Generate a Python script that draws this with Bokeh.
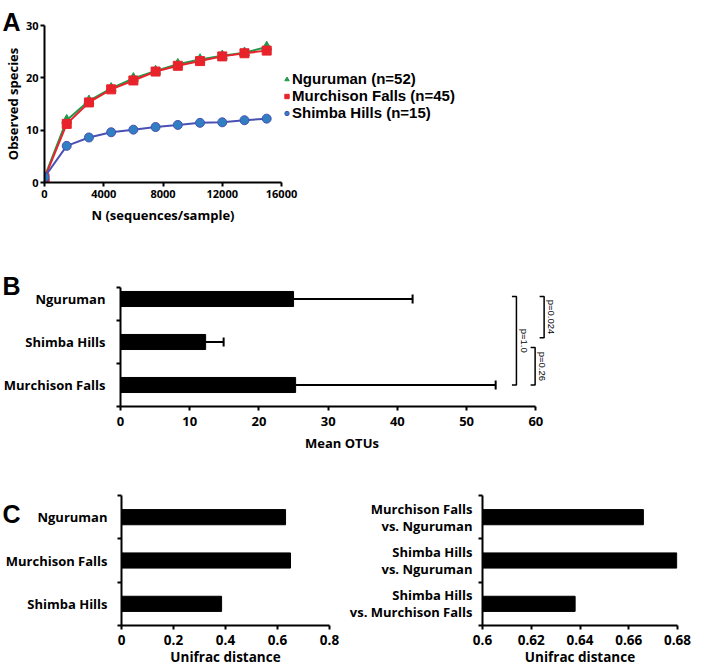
import math
from bokeh.plotting import figure
from bokeh.layouts import row
from bokeh.models import (ColumnDataSource, Range1d, FixedTicker, Legend, LegendItem,
                          Label, Whisker, TeeHead, NumeralTickFormatter)
from bokeh.core.properties import value
from bokeh.embed import file_html
from bokeh.resources import INLINE

# ---------------- data ----------------
# Panel A: rarefaction curves
sample_depth = [0, 1500, 3000, 4500, 6000, 7500, 9000, 10500, 12000, 13500, 15000]
nguruman_obs = [1.0, 11.9, 15.6, 18.0, 19.9, 21.3, 22.6, 23.5, 24.2, 24.8, 25.9]
murchison_obs = [0.8, 11.2, 15.3, 17.8, 19.5, 21.2, 22.3, 23.2, 24.1, 24.7, 25.2]
shimba_obs = [1.0, 7.0, 8.6, 9.6, 10.1, 10.6, 11.0, 11.4, 11.5, 11.9, 12.2]
curve_labels = ["Nguruman (n=52)", "Murchison Falls (n=45)", "Shimba Hills (n=15)"]
depth_ticks = [0, 4000, 8000, 12000, 16000]
species_ticks = [0, 10, 20, 30]

# Panel B: mean OTUs
otu_sites = ["Nguruman", "Shimba Hills", "Murchison Falls"]
otu_mean = [25.0, 12.3, 25.3]
otu_err = [17.2, 2.6, 28.9]
otu_ticks = [0, 10, 20, 30, 40, 50, 60]
p_tests = [("Nguruman", "Murchison Falls", "p=1.0"),
           ("Nguruman", "Shimba Hills", "p=0.024"),
           ("Shimba Hills", "Murchison Falls", "p=0.26")]

# Panel C: Unifrac distances
within_sites = ["Nguruman", "Murchison Falls", "Shimba Hills"]
within_dist = [0.631, 0.650, 0.385]
within_ticks = [0, 0.2, 0.4, 0.6, 0.8]
between_pairs = ["Murchison Falls\nvs. Nguruman", "Shimba Hills\nvs. Nguruman",
                 "Shimba Hills\nvs. Murchison Falls"]
between_dist = [0.666, 0.6797, 0.638]
between_ticks = [0.6, 0.62, 0.64, 0.66, 0.68]

# ---------------- style ----------------
FONT = "Open Sans"
LETTER_FONT = "Liberation Sans"
GREEN = "#23984a"
RED = "#e8232b"
BLUE_FILL = "#2f7fc2"
BLUE_LINE = "#4a50b4"


def base_fig(fw, fh, xr, yr, left, top, bottom, right):
    p = figure(frame_width=fw, frame_height=fh, x_range=xr, y_range=yr,
               toolbar_location=None, output_backend="svg",
               min_border_left=left, min_border_top=top,
               min_border_bottom=bottom, min_border_right=right)
    p.xgrid.visible = False
    p.ygrid.visible = False
    p.outline_line_color = None
    p.background_fill_color = "white"
    for ax in p.axis:
        ax.axis_line_width = 2
        ax.axis_line_color = "black"
        ax.major_tick_line_width = 2
        ax.major_tick_line_color = "black"
        ax.major_tick_out = 4
        ax.major_tick_in = 0
        ax.minor_tick_line_color = None
        ax.major_label_text_font = FONT
        ax.major_label_text_font_style = "bold"
        ax.major_label_text_color = "black"
        ax.axis_label_text_font = FONT
        ax.axis_label_text_font_style = "bold"
        ax.axis_label_text_color = "black"
    return p


def category_axis(p, labels, top_bound=None, size="13px", standoff=10):
    n = len(labels)
    pos = list(range(n - 1, -1, -1))
    ax = p.yaxis[0]
    top = top_bound if top_bound is not None else n - 0.5
    minor = [k - 0.5 for k in range(n)] + [top]
    ax.ticker = FixedTicker(ticks=pos, minor_ticks=minor)
    ax.major_label_overrides = {pos[i]: labels[i] for i in range(n)}
    ax.major_tick_line_color = None
    ax.major_tick_out = 0
    ax.minor_tick_line_color = "black"
    ax.minor_tick_line_width = 2
    ax.minor_tick_out = 4
    ax.minor_tick_in = 0
    ax.major_label_standoff = standoff
    ax.major_label_text_font_size = size
    ax.bounds = (-0.5, top)
    return pos


def panel_letter(p, letter, cx, cy, side):
    # canvas units; placed in a side panel so that it is not clipped to the frame
    p.add_layout(Label(x=cx, y=cy, x_units="canvas", y_units="canvas", text=letter,
                       text_font=LETTER_FONT, text_font_style="bold",
                       text_font_size="25px", text_color="black",
                       text_baseline="alphabetic", text_align="left"), side)


# ---------------- Panel A ----------------
A_FW, A_FH, A_L = 237, 157, 43
pA = base_fig(A_FW, A_FH, Range1d(0, 16000), Range1d(0, 30), A_L, 25, 42, 0)
pA.xaxis.ticker = FixedTicker(ticks=depth_ticks)
pA.yaxis.ticker = FixedTicker(ticks=species_ticks)
pA.xaxis.axis_label = "N (sequences/sample)"
pA.yaxis.axis_label = "Observed species"
for ax in pA.axis:
    ax.major_label_text_font_size = "11px"
    ax.axis_label_text_font_size = "13px"
    ax.major_label_standoff = 3
    ax.axis_label_standoff = 5
pA.yaxis.major_label_standoff = 2
pA.yaxis.axis_label_standoff = 1

srcA = ColumnDataSource(dict(x=sample_depth, ng=nguruman_obs, mu=murchison_obs, sh=shimba_obs))
pA.line("x", "ng", source=srcA, color=GREEN, line_width=2)
r_ng = pA.scatter("x", "ng", source=srcA, marker="triangle", size=10, color=GREEN)
pA.line("x", "mu", source=srcA, color=RED, line_width=2)
r_mu = pA.scatter("x", "mu", source=srcA, marker="square", size=9, color=RED)
pA.line("x", "sh", source=srcA, color=BLUE_LINE, line_width=2)
r_sh = pA.scatter("x", "sh", source=srcA, marker="circle", size=9,
                  fill_color=BLUE_FILL, line_color=BLUE_LINE)

legA = Legend(items=[LegendItem(label=curve_labels[0], renderers=[r_ng]),
                     LegendItem(label=curve_labels[1], renderers=[r_mu]),
                     LegendItem(label=curve_labels[2], renderers=[r_sh])],
              location=(0, 61), border_line_color=None, background_fill_alpha=0,
              padding=0, margin=0, spacing=0, glyph_width=11, glyph_height=16,
              label_height=16, label_standoff=0, label_text_font="Liberation Sans",
              label_text_font_style="bold", label_text_font_size="15px",
              label_text_color="black")
pA.add_layout(legA, "right")
panel_letter(pA, "A", 2, 21, "right")

# ---------------- Panel B ----------------
B_FW, B_FH, B_L = 443, 129, 117
pB = base_fig(B_FW, B_FH, Range1d(0, 64), Range1d(-0.5, 2.5), B_L, 51, 45, 10)
pB.xaxis.ticker = FixedTicker(ticks=otu_ticks)
pB.xaxis.bounds = (otu_ticks[0], otu_ticks[-1])
pB.xaxis.major_label_text_font_size = "13px"
pB.xaxis.major_label_standoff = 6
pB.xaxis.axis_label = "Mean OTUs"
pB.xaxis.axis_label_text_font_size = "13px"
pB.xaxis.axis_label_standoff = 5
posB = category_axis(pB, otu_sites, top_bound=2.27, size="13px", standoff=11)
srcB = ColumnDataSource(dict(y=posB, m=otu_mean, up=[m + e for m, e in zip(otu_mean, otu_err)]))
pB.hbar(y="y", right="m", left=0, height=0.35, source=srcB, fill_color="black", line_color="black")
pB.add_layout(Whisker(base="y", lower="m", upper="up", dimension="width", source=srcB,
                      line_width=2, line_color="black", lower_head=None,
                      upper_head=TeeHead(size=9, line_width=2, line_color="black")))

# significance brackets (layout: x position, end gaps)
site_pos = {s: posB[i] for i, s in enumerate(otu_sites)}
bracket_x = [57.2, 61.2, 59.9]
bracket_gap = [(0.06, 0.0), (0.06, 0.1), (-0.13, 0.0)]
bx, by, tx, ty, tt = [], [], [], [], []
for (a, b, lab), x, (ga, gb) in zip(p_tests, bracket_x, bracket_gap):
    top = site_pos[a] + ga
    bot = site_pos[b] + gb
    bx.append([x - 0.65, x, x, x - 0.65])
    by.append([top, top, bot, bot])
    tx.append(x + 0.3)
    ty.append((top + bot) / 2)
    tt.append(lab)
pB.multi_line(bx, by, line_color="black", line_width=1.5)
pB.text(tx, ty, text=tt, angle=-math.pi / 2, text_align="center", text_baseline="bottom",
        text_font=value("Liberation Sans"), text_font_size="9.5px", text_color="black")
panel_letter(pB, "B", 2, 59, "above")

# ---------------- Panel C (left) ----------------
C_FH = 130
C1_FW, C1_L = 208, 121
pC1 = base_fig(C1_FW, C_FH, Range1d(0, 0.8), Range1d(-0.5, 2.5), C1_L, 41, 46, 16)
pC1.xaxis.ticker = FixedTicker(ticks=within_ticks)
pC1.xaxis.formatter = NumeralTickFormatter(format="0.[0]")
pC1.xaxis.major_label_text_font_size = "13.5px"
pC1.xaxis.major_label_standoff = 5
pC1.xaxis.axis_label = "Unifrac distance"
pC1.xaxis.axis_label_text_font_size = "13.5px"
pC1.xaxis.axis_label_standoff = 0
posC1 = category_axis(pC1, within_sites, size="13px", standoff=10)
pC1.hbar(y=posC1, right=within_dist, left=0, height=0.35, fill_color="black", line_color="black")
panel_letter(pC1, "C", 2, 59, "above")

# ---------------- Panel C (right) ----------------
C2_FW, C2_L = 195, 137
pC2 = base_fig(C2_FW, C_FH, Range1d(0.6, 0.68), Range1d(-0.5, 2.5), C2_L, 41, 46, 14)
pC2.xaxis.ticker = FixedTicker(ticks=between_ticks)
pC2.xaxis.formatter = NumeralTickFormatter(format="0.[00]")
pC2.xaxis.major_label_text_font_size = "13.5px"
pC2.xaxis.major_label_standoff = 5
pC2.xaxis.axis_label = "Unifrac distance"
pC2.xaxis.axis_label_text_font_size = "13.5px"
pC2.xaxis.axis_label_standoff = 0
posC2 = category_axis(pC2, between_pairs, size="13px", standoff=6)
pC2.yaxis.major_label_text_line_height = 0.95
pC2.hbar(y=posC2, right=between_dist, left=between_ticks[0], height=0.35,
         fill_color="black", line_color="black")

rowC = row(pC1, pC2, spacing=0)
open("out.html", "w").write(file_html([pA, pB, rowC], INLINE))
